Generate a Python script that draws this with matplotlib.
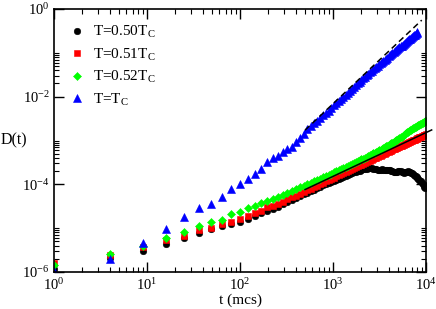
import matplotlib
matplotlib.use("Agg")
import matplotlib.pyplot as plt
from matplotlib.ticker import LogLocator, FixedLocator, NullFormatter, LogFormatterSciNotation

plt.rcParams['font.family'] = ['Liberation Serif', 'DejaVu Serif']
plt.rcParams['mathtext.fontset'] = 'custom'
plt.rcParams['mathtext.rm'] = 'Liberation Serif'
plt.rcParams['mathtext.it'] = 'Liberation Serif:italic'
plt.rcParams['axes.unicode_minus'] = False

# time in mcs (sampled at perfect squares)
t = [1, 4, 9, 16, 25, 36, 49, 64, 81, 100,
     121, 144, 169, 196, 225, 256, 289, 324, 361, 400,
     441, 484, 529, 576, 625, 676, 729, 784, 841, 900,
     961, 1024, 1089, 1156, 1225, 1296, 1369, 1444, 1521, 1600,
     1681, 1764, 1849, 1936, 2025, 2116, 2209, 2304, 2401, 2500,
     2601, 2704, 2809, 2916, 3025, 3136, 3249, 3364, 3481, 3600,
     3721, 3844, 3969, 4096, 4225, 4356, 4489, 4624, 4761, 4900,
     5041, 5184, 5329, 5476, 5625, 5776, 5929, 6084, 6241, 6400,
     6561, 6724, 6889, 7056, 7225, 7396, 7569, 7744, 7921, 8100,
     8281, 8464, 8649, 8836, 9025, 9216, 9409, 9604, 9801, 10000]

# log10 D(t)
logD_050 = [-5.93, -5.688, -5.514, -5.368, -5.231, -5.111, -5.02, -4.95, -4.90, -4.853,
            -4.78, -4.72, -4.665, -4.60, -4.56, -4.515, -4.455, -4.40, -4.355, -4.31,
            -4.265, -4.225, -4.19, -4.155, -4.12, -4.085, -4.055, -4.02, -3.995, -3.97,
            -3.945, -3.92, -3.90, -3.87, -3.85, -3.83, -3.80, -3.785, -3.77, -3.75,
            -3.73, -3.715, -3.70, -3.685, -3.67, -3.66, -3.65, -3.64, -3.635, -3.63,
            -3.635, -3.64, -3.65, -3.66, -3.665, -3.67, -3.665, -3.66, -3.67, -3.675,
            -3.68, -3.675, -3.67, -3.675, -3.69, -3.70, -3.71, -3.715, -3.72, -3.71,
            -3.70, -3.695, -3.70, -3.715, -3.73, -3.735, -3.73, -3.72, -3.71, -3.705,
            -3.71, -3.72, -3.735, -3.745, -3.76, -3.78, -3.80, -3.82, -3.84, -3.86,
            -3.88, -3.90, -3.915, -3.93, -3.96, -3.99, -4.02, -4.05, -4.08, -4.06]

logD_051 = [-5.795, -5.612, -5.43, -5.27, -5.172, -5.05, -4.99, -4.905, -4.853, -4.798,
            -4.723, -4.661, -4.602, -4.524, -4.495, -4.449, -4.396, -4.346, -4.299, -4.255,
            -4.213, -4.172, -4.134, -4.097, -4.061, -4.027, -3.994, -3.963, -3.932, -3.903,
            -3.874, -3.847, -3.820, -3.794, -3.769, -3.744, -3.721, -3.697, -3.675, -3.653,
            -3.631, -3.611, -3.590, -3.570, -3.551, -3.531, -3.513, -3.495, -3.477, -3.459,
            -3.442, -3.425, -3.408, -3.392, -3.376, -3.361, -3.345, -3.330, -3.315, -3.301,
            -3.286, -3.272, -3.258, -3.245, -3.231, -3.218, -3.205, -3.192, -3.179, -3.167,
            -3.154, -3.142, -3.130, -3.119, -3.107, -3.095, -3.084, -3.073, -3.062, -3.051,
            -3.040, -3.029, -3.019, -3.008, -2.998, -2.988, -2.978, -2.968, -2.958, -2.949,
            -2.939, -2.929, -2.920, -2.911, -2.902, -2.892, -2.883, -2.875, -2.866, -2.857]

logD_052 = [-5.84, -5.596, -5.40, -5.218, -5.081, -4.951, -4.867, -4.803, -4.677, -4.62,
            -4.54, -4.483, -4.426, -4.381, -4.335, -4.29, -4.241, -4.194, -4.150, -4.110,
            -4.071, -4.033, -3.997, -3.963, -3.929, -3.898, -3.867, -3.838, -3.809, -3.782,
            -3.755, -3.730, -3.703, -3.677, -3.652, -3.627, -3.604, -3.580, -3.558, -3.536,
            -3.514, -3.494, -3.473, -3.453, -3.432, -3.411, -3.391, -3.372, -3.352, -3.333,
            -3.315, -3.296, -3.278, -3.261, -3.244, -3.227, -3.210, -3.190, -3.171, -3.153,
            -3.134, -3.116, -3.099, -3.082, -3.064, -3.048, -3.031, -3.015, -2.998, -2.983,
            -2.966, -2.951, -2.93, -2.91, -2.89, -2.87, -2.85, -2.83, -2.81, -2.795,
            -2.78, -2.765, -2.75, -2.737, -2.724, -2.712, -2.70, -2.687, -2.675, -2.664,
            -2.651, -2.639, -2.628, -2.617, -2.606, -2.593, -2.582, -2.572, -2.561, -2.55]

# T = Tc run stops at t = 8100
logD_tc = [-5.98, -5.71, -5.33, -5.02, -4.74, -4.55, -4.456, -4.283, -4.114, -4.00,
           -3.879, -3.772, -3.655, -3.49, -3.407, -3.348, -3.27, -3.202, -3.156, -3.028,
           -2.951, -2.853, -2.746, -2.677, -2.610, -2.547, -2.486, -2.428, -2.370, -2.316,
           -2.262, -2.200, -2.147, -2.097, -2.048, -1.999, -1.953, -1.906, -1.863, -1.820,
           -1.777, -1.738, -1.697, -1.657, -1.620, -1.581, -1.546, -1.510, -1.475, -1.440,
           -1.410, -1.379, -1.349, -1.321, -1.292, -1.266, -1.237, -1.210, -1.184, -1.159,
           -1.132, -1.107, -1.082, -1.059, -1.034, -1.011, -0.988, -0.965, -0.942, -0.920,
           -0.897, -0.876, -0.854, -0.835, -0.813, -0.792, -0.772, -0.753, -0.733, -0.714,
           -0.694, -0.675, -0.657, -0.637, -0.619, -0.601, -0.584, -0.566, -0.548, -0.532]

# guide lines (t^2 dashed, t^1 solid)
dash_t = [500, 9000]
dash_D = [1.72e-3, 0.557]
solid_t = [500, 11500]
solid_D = [7.6e-5, 1.74e-3]

labels = ['T=0.50T$_\\mathrm{C}$', 'T=0.51T$_\\mathrm{C}$',
          'T=0.52T$_\\mathrm{C}$', 'T=T$_\\mathrm{C}$']

xticks = [1, 10, 100, 1000, 10000]
yticks = [1e-6, 1e-4, 1e-2, 1]

D050 = [10 ** v for v in logD_050]
D051 = [10 ** v for v in logD_051]
D052 = [10 ** v for v in logD_052]
Dtc = [10 ** v for v in logD_tc]

fig = plt.figure(figsize=(4.36, 3.09), dpi=100)
ax = fig.add_axes([54 / 436, 37 / 309, 372 / 436, 263 / 309])

ax.plot(t, D050, 'o', color='black', ms=4.7, mew=0.4, label=labels[0])
ax.plot(t, D051, 's', color='red', ms=4.4, mew=0.4, label=labels[1])
ax.plot(t, D052, 'D', color='#00ff00', ms=4.0, mew=0.4, label=labels[2])
ax.plot(t[:len(Dtc)], Dtc, '^', color='blue', ms=5.6, mew=0.4, label=labels[3])
ax.plot(dash_t, dash_D, color='black', lw=1.1, dashes=(4, 2.5))
ax.plot(solid_t, solid_D, color='black', lw=1.1, clip_on=False)

ax.set_xscale('log')
ax.set_yscale('log')
ax.set_xlim(1, 1e4)
ax.set_ylim(1e-6, 1)

ax.xaxis.set_major_locator(FixedLocator(xticks))
ax.yaxis.set_major_locator(FixedLocator(yticks))
ax.xaxis.set_major_formatter(LogFormatterSciNotation())
ax.yaxis.set_major_formatter(LogFormatterSciNotation())
ymin = [k * 10.0 ** e for e in (-6, -4, -2) for k in range(2, 11)]
ax.yaxis.set_minor_locator(FixedLocator(ymin))
ax.yaxis.set_minor_formatter(NullFormatter())
ax.xaxis.set_minor_locator(LogLocator(base=10, subs=range(2, 10)))
ax.xaxis.set_minor_formatter(NullFormatter())

ax.tick_params(which='both', direction='in', top=True, right=True, labelsize=10.5)
ax.tick_params(axis='x', pad=4)
ax.tick_params(axis='y', pad=3)
ax.tick_params(which='major', length=7, width=1.0)
ax.tick_params(which='minor', length=3.5, width=0.8)
for s in ax.spines.values():
    s.set_linewidth(1.2)

ax.set_xlabel('t (mcs)', fontsize=11, va='center')
ax.xaxis.set_label_coords(0.5, -0.108)
ax.set_ylabel('D(t)', fontsize=11.5, rotation=0, ha='center', va='center')
ax.yaxis.set_label_coords(-0.108, 0.5)

ax.legend(loc='upper left', bbox_to_anchor=(0.0, 1.0), frameon=False, fontsize=11,
          handlelength=1.0, handletextpad=0.55, borderpad=1.0, borderaxespad=0.0,
          labelspacing=0.42, numpoints=1)

fig.savefig('out.png', dpi=100)
